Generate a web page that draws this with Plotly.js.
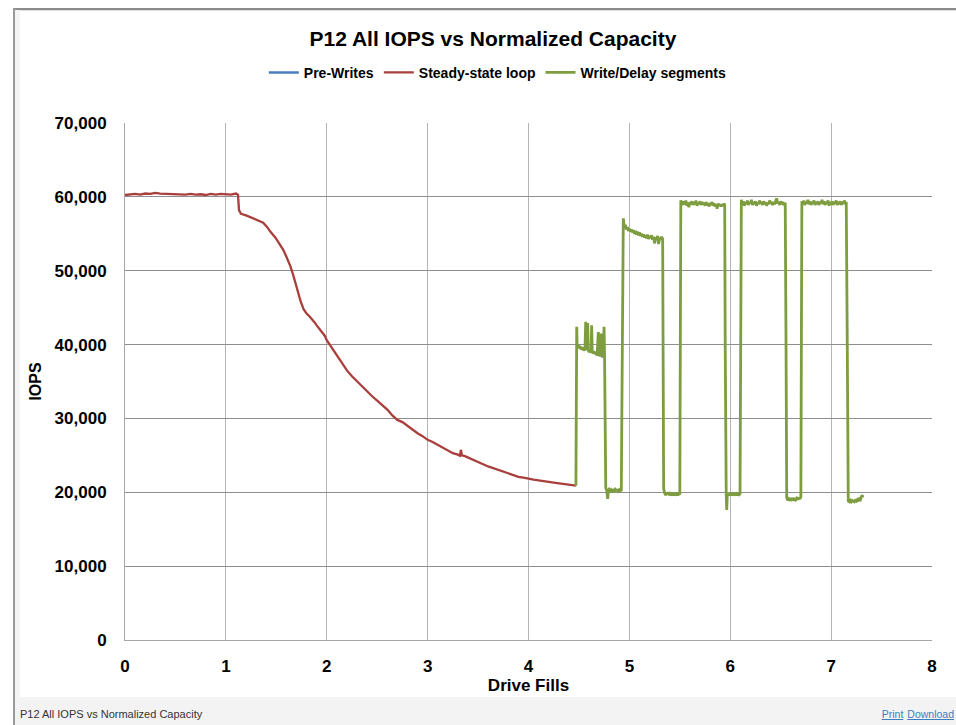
<!DOCTYPE html>
<html>
<head>
<meta charset="utf-8">
<script src="https://cdn.plot.ly/plotly-3.0.1.min.js"></script>
<style>
  html, body { margin: 0; padding: 0; background: #ffffff; width: 956px; height: 725px; overflow: hidden; position: relative; font-family: "Liberation Sans", Arial, sans-serif; }
  #topline { position: absolute; left: 13px; top: 8px; width: 943px; height: 2px; background: #8c8c8c; }
  #topline2 { position: absolute; left: 15px; top: 10px; width: 941px; height: 1px; background: #dcdcdc; }
  #leftline { position: absolute; left: 13px; top: 8px; width: 2px; height: 717px; background: #9a9a9a; }
  #leftstrip { position: absolute; left: 15px; top: 10px; width: 5px; height: 687px; background: #f4f4f4; }
  #bottom { position: absolute; left: 15px; top: 697px; width: 941px; height: 28px; background: #f3f3f3; }
  #caption { position: absolute; left: 20px; top: 708px; font-size: 11px; color: #333333; white-space: nowrap; }
  #links { position: absolute; right: 2px; top: 708px; font-size: 10.5px; color: #3c7ec5; white-space: nowrap; }
  #links span { text-decoration: underline; margin-left: 4px; }
  #chart { position: absolute; left: 20px; top: 11px; width: 936px; height: 686px; }
</style>
</head>
<body>
<div id="topline"></div>
<div id="topline2"></div>
<div id="leftline"></div>
<div id="leftstrip"></div>
<div id="bottom"></div>
<div id="caption">P12 All IOPS vs Normalized Capacity</div>
<div id="links"><span>Print</span><span>Download</span></div>
<div id="chart"></div>
<script>
// ---- Data ----
const chartTitle = "P12 All IOPS vs Normalized Capacity";
const seriesNames = ["Pre-Writes", "Steady-state loop", "Write/Delay segments"];
const xTickVals = [0, 1, 2, 3, 4, 5, 6, 7, 8];
const yTickVals = [0, 10000, 20000, 30000, 40000, 50000, 60000, 70000];

// Pre-Writes has no visible points in the reference (legend entry only)
const preWritesX = [null];
const preWritesY = [null];

const steadyX = [0, 0.05, 0.1, 0.15, 0.2, 0.25, 0.3, 0.35, 0.4, 0.45, 0.5, 0.55, 0.6, 0.65, 0.7, 0.75, 0.8, 0.85, 0.9, 0.95, 1.0, 1.05, 1.1, 1.12,
  1.13, 1.15, 1.2, 1.27, 1.33, 1.37, 1.41, 1.44, 1.49, 1.54, 1.57, 1.6, 1.64, 1.67, 1.7, 1.72, 1.74, 1.77, 1.8, 1.83, 1.85, 1.88, 1.9, 1.93, 1.95, 1.98,
  2.0, 2.03, 2.05, 2.08, 2.1, 2.13, 2.15, 2.18, 2.2, 2.25, 2.3, 2.35, 2.4, 2.45, 2.5, 2.55, 2.6, 2.65, 2.7, 2.75, 2.8, 2.85, 2.9, 2.95,
  3.0, 3.05, 3.1, 3.15, 3.2, 3.25, 3.3, 3.32, 3.33, 3.34, 3.37, 3.4, 3.45, 3.5, 3.55, 3.6, 3.65, 3.7, 3.75, 3.8, 3.85, 3.9, 3.95,
  4.0, 4.05, 4.1, 4.15, 4.2, 4.25, 4.3, 4.35, 4.4, 4.43, 4.47];
const steadyY = [60250, 60350, 60400, 60300, 60450, 60400, 60550, 60450, 60400, 60350, 60300, 60350, 60300, 60400, 60300, 60350, 60250, 60400, 60300, 60400, 60350, 60300, 60450, 60300,
  58200, 57700, 57500, 57100, 56700, 56500, 55900, 55300, 54500, 53500, 52800, 51900, 50600, 49300, 47800, 46900, 45900, 44800, 44200, 43800, 43500, 43000, 42600, 42100, 41700, 41200,
  40600, 40000, 39600, 39000, 38500, 37900, 37500, 36900, 36500, 35700, 35000, 34300, 33700, 33000, 32400, 31800, 31200, 30400, 29800, 29500, 29000, 28400, 28000, 27600,
  27100, 26800, 26400, 26000, 25700, 25300, 25100, 24950, 25750, 25000, 24900, 24700, 24450, 24100, 23800, 23500, 23250, 23000, 22800, 22500, 22350, 22100, 22000,
  21800, 21700, 21600, 21550, 21400, 21300, 21200, 21150, 21050, 21000, 20900];

const writeDelayX = [4.470, 4.474, 4.478, 4.482, 4.490, 4.500, 4.510, 4.520, 4.530, 4.540, 4.550, 4.560, 4.567, 4.572, 4.580, 4.587, 4.592, 4.600, 4.610, 4.620,
  4.626, 4.632, 4.640, 4.650, 4.660, 4.670, 4.680, 4.692, 4.698, 4.705, 4.712, 4.719, 4.725, 4.735, 4.742, 4.749, 4.754, 4.760, 4.766, 4.775,
  4.785, 4.792, 4.80, 4.81, 4.82, 4.83, 4.84, 4.85, 4.86, 4.87, 4.88, 4.89, 4.90, 4.91, 4.92, 4.925,
  4.935, 4.94, 4.95, 4.96, 4.97, 4.98, 4.99, 5.00, 5.01, 5.02, 5.03, 5.04, 5.05, 5.06, 5.07, 5.08, 5.09, 5.10, 5.11, 5.12, 5.13, 5.14, 5.15, 5.16,
  5.17, 5.18, 5.19, 5.20, 5.21, 5.22, 5.23, 5.24, 5.25, 5.26, 5.27, 5.28, 5.29, 5.30, 5.31, 5.32, 5.33, 5.335,
  5.34, 5.35, 5.36, 5.37, 5.38, 5.39, 5.40, 5.41, 5.42, 5.43, 5.44, 5.45, 5.46, 5.47, 5.48, 5.49, 5.50, 5.505,
  5.51, 5.52, 5.53, 5.54, 5.55, 5.56, 5.57, 5.58, 5.59, 5.60, 5.61, 5.62, 5.63, 5.64, 5.65, 5.66, 5.67, 5.68, 5.69, 5.70, 5.71, 5.72, 5.73, 5.74,
  5.75, 5.76, 5.77, 5.78, 5.79, 5.80, 5.81, 5.82, 5.83, 5.84, 5.85, 5.86, 5.87, 5.88, 5.89, 5.90, 5.91, 5.92, 5.93, 5.94, 5.945,
  5.95, 5.955, 5.96, 5.965, 5.97, 5.98, 5.99, 6.00, 6.01, 6.02, 6.03, 6.04, 6.05, 6.06, 6.07, 6.08, 6.09, 6.097, 6.10,
  6.105, 6.11, 6.12, 6.13, 6.14, 6.15, 6.16, 6.17, 6.18, 6.19, 6.20, 6.21, 6.22, 6.23, 6.24, 6.25, 6.26, 6.27, 6.28, 6.29, 6.30, 6.31, 6.32,
  6.33, 6.34, 6.35, 6.36, 6.37, 6.38, 6.39, 6.40, 6.41, 6.42, 6.43, 6.44, 6.45, 6.46, 6.47, 6.48, 6.49, 6.50, 6.51, 6.52, 6.53, 6.545,
  6.553, 6.56, 6.57, 6.58, 6.59, 6.60, 6.61, 6.62, 6.63, 6.64, 6.65, 6.66, 6.67, 6.68, 6.69, 6.70, 6.705,
  6.71, 6.72, 6.73, 6.74, 6.75, 6.76, 6.77, 6.78, 6.79, 6.80, 6.81, 6.82, 6.83, 6.84, 6.85, 6.86, 6.87, 6.88, 6.89, 6.90, 6.91, 6.92, 6.93,
  6.94, 6.95, 6.96, 6.97, 6.98, 6.99, 7.00, 7.01, 7.02, 7.03, 7.04, 7.05, 7.06, 7.07, 7.08, 7.09, 7.10, 7.11, 7.12, 7.13, 7.14, 7.15,
  7.16, 7.165, 7.17, 7.18, 7.19, 7.20, 7.21, 7.22, 7.23, 7.24, 7.25, 7.26, 7.27, 7.28, 7.29, 7.30, 7.31, 7.313];
const writeDelayY = [20900, 38500, 42400, 40000, 39600, 39900, 39400, 39700, 39300, 39600, 39200, 39400, 43100, 39300, 39500, 42900, 39200, 39000, 39300, 38900,
  42600, 39000, 38800, 39100, 38700, 38900, 38500, 41700, 38600, 38400, 38700, 41500, 38500, 38300, 38600, 42400, 38400, 30000, 20600, 20300,
  19100, 20200, 20400, 20200, 20350, 20150, 20300, 20200, 20400, 20250, 20300, 20150, 20350, 20200, 20300, 30000,
  56500, 57100, 55800, 56200, 55600, 55900, 55400, 55700, 55300, 55600, 55200, 55500, 55000, 55400, 54900, 55300, 54800, 55200, 54700, 55000, 54600, 54900, 54500, 54800,
  54400, 54900, 54300, 54700, 54400, 54800, 54200, 54600, 53700, 54500, 54300, 54700, 53600, 54500, 54200, 54600, 54300, 40000,
  20500, 19900, 19600, 19900, 19700, 20000, 19600, 19800, 19700, 19900, 19600, 19800, 19700, 19900, 19600, 19800, 19700, 40000,
  59500, 59300, 58900, 59400, 59000, 59500, 58800, 59200, 58600, 59300, 59000, 59400, 58900, 59300, 59000, 59500, 58800, 59200, 59000, 59400, 58900, 59300, 59000, 59200,
  58800, 59300, 58900, 59100, 58700, 59200, 58900, 59300, 58800, 59100, 58700, 59000, 58400, 59100, 58800, 59000, 58700, 59000, 58800, 59100, 58900,
  40000, 20200, 19700, 17600, 19500, 19800, 19600, 19900, 19700, 19800, 19600, 19900, 19700, 19800, 19600, 19900, 19700, 19800, 40000,
  59300, 59600, 59000, 59400, 58800, 59300, 59000, 59500, 58900, 59300, 59100, 59600, 58900, 59300, 59000, 59400, 58800, 59200, 59000, 59500, 59100, 59300, 58900,
  59400, 59000, 59300, 58800, 59200, 59000, 59500, 59100, 59300, 58900, 59300, 59000, 59400, 59800, 59100, 59300, 58900, 59400, 59000, 59300, 58900, 59200,
  40000, 19300, 18900, 19100, 18900, 19200, 19000, 19100, 18900, 19200, 19000, 19200, 19000, 19300, 19100, 19400, 40000,
  59400, 59000, 59500, 58900, 59300, 59100, 59600, 59000, 59400, 58900, 59300, 59100, 59500, 58900, 59300, 59000, 59400, 58900, 59300, 59100, 59600, 59000, 59400,
  58900, 59300, 59100, 59500, 58800, 59300, 59000, 59400, 58900, 59300, 59100, 59500, 58900, 59300, 59000, 59400, 58900, 59300, 59000, 59500, 59100, 59300,
  40000, 19500, 18800, 18700, 18900, 18700, 18900, 18800, 18700, 18900, 18800, 19000, 18800, 19100, 19000, 19400, 19600, 19300];

// ---- Styles ----
const FONT = '"Liberation Sans", Arial, sans-serif';

const traces = [
  { type: 'scatter', mode: 'lines', name: seriesNames[0], x: preWritesX, y: preWritesY,
    line: { color: '#4a7ebb', width: 2.5 }, showlegend: true },
  { type: 'scatter', mode: 'lines', name: seriesNames[1], x: steadyX, y: steadyY,
    line: { color: '#a83f3c', width: 2.3 } },
  { type: 'scatter', mode: 'lines', name: seriesNames[2], x: writeDelayX, y: writeDelayY,
    line: { color: '#7d9d3f', width: 2.8 } }
];

const layout = {
  width: 936, height: 686,
  paper_bgcolor: '#ffffff', plot_bgcolor: '#ffffff',
  margin: { l: 105, r: 24, t: 112, b: 57, pad: 0 },
  font: { family: FONT, color: '#000000' },
  title: { text: chartTitle, font: { family: FONT, size: 21, weight: 'bold', color: '#000' },
    xref: 'container', yref: 'container', x: 0.5053, xanchor: 'center', y: 0.959, yanchor: 'middle' },
  showlegend: true,
  legend: { orientation: 'h', x: 0.462, xanchor: 'center', y: 1.097, yanchor: 'middle',
    font: { family: FONT, size: 14, weight: 'bold', color: '#000' }, traceorder: 'normal',
    bgcolor: 'rgba(0,0,0,0)' },
  xaxis: {
    range: [0, 8], tickvals: xTickVals, ticks: '', ticklabelstandoff: 11,
    showgrid: true, gridcolor: '#b4b4b4', gridwidth: 1,
    showline: true, linecolor: '#a6a6a6', linewidth: 1, zeroline: false,
    tickfont: { family: FONT, size: 17, weight: 'bold', color: '#000' },
    title: { text: 'Drive Fills', standoff: 2, font: { family: FONT, size: 17, weight: 'bold', color: '#000' } },
    automargin: false, fixedrange: true
  },
  yaxis: {
    range: [0, 70000], tickvals: yTickVals, tickformat: ',', ticks: '', ticklabelstandoff: 14,
    showgrid: true, gridcolor: '#8e8e8e', gridwidth: 1,
    showline: true, linecolor: '#a6a6a6', linewidth: 1, zeroline: false,
    tickfont: { family: FONT, size: 17, weight: 'bold', color: '#000' },
    title: { text: 'IOPS', standoff: 8, font: { family: FONT, size: 16, weight: 'bold', color: '#000' } },
    automargin: false, fixedrange: true
  }
};

Plotly.newPlot('chart', traces, layout, { displayModeBar: false, staticPlot: true });
</script>
</body>
</html>
